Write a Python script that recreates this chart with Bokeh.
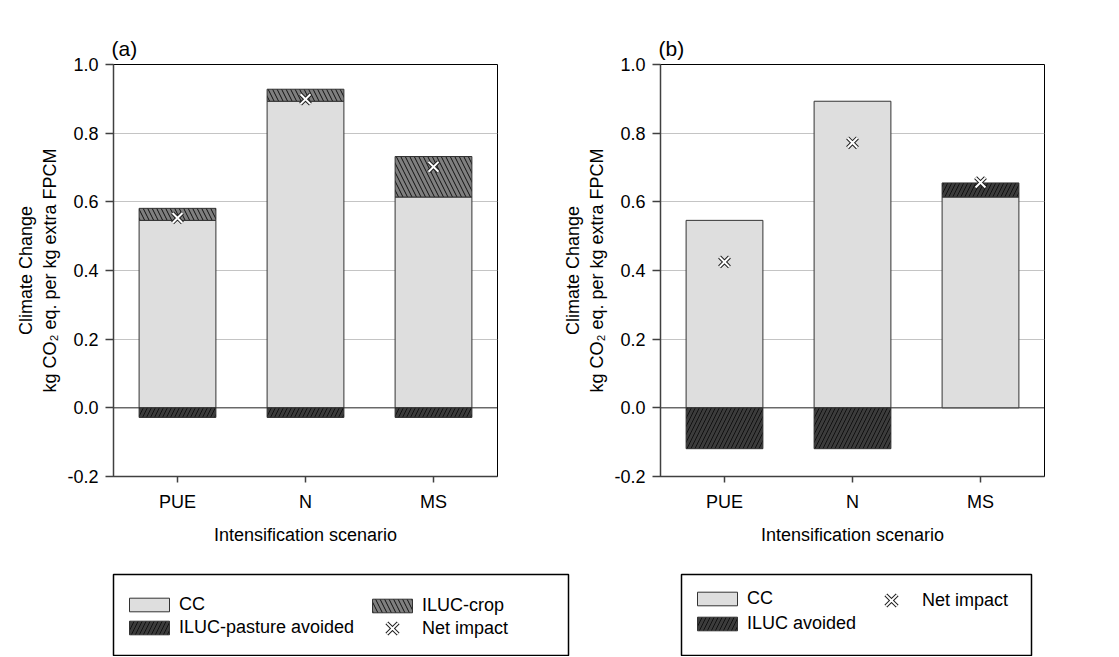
from bokeh.plotting import figure
from bokeh.models import (FactorRange, Range1d, FixedTicker, NumeralTickFormatter,
                          Span, Legend, LegendItem, ColumnDataSource)
from bokeh.layouts import column, row
from bokeh.embed import file_html
from bokeh.resources import INLINE

# ---------------- data ----------------
scenarios = ["PUE", "N", "MS"]
# panel (a)
a_cc = [0.546, 0.893, 0.614]
a_iluc_crop = [0.035, 0.035, 0.118]
a_iluc_pasture_avoided = [-0.028, -0.028, -0.028]
a_net = [0.553, 0.899, 0.702]
# panel (b)
b_cc = [0.546, 0.893, 0.614]
b_iluc_avoided = [-0.119, -0.119, 0.041]
b_net = [0.425, 0.772, 0.656]
y_ticks = [-0.2, 0.0, 0.2, 0.4, 0.6, 0.8, 1.0]
grid_ticks = [0.2, 0.4, 0.6, 0.8]

FONT = "Liberation Sans"
FS = "18px"
CC_FILL = "#dedede"
CROP_FILL = "#7f7f7f"
DARK_FILL = "#3c3c3c"
BAR_LINE = "#333333"

src_a = ColumnDataSource(dict(
    x=scenarios, cc=a_cc,
    crop_bottom=a_cc,
    crop_top=[c + k for c, k in zip(a_cc, a_iluc_crop)],
    past=a_iluc_pasture_avoided,
    net=a_net))

src_b = ColumnDataSource(dict(
    x=scenarios, cc=b_cc,
    iluc_bottom=[c if v > 0 else 0.0 for c, v in zip(b_cc, b_iluc_avoided)],
    iluc_top=[c + v if v > 0 else v for c, v in zip(b_cc, b_iluc_avoided)],
    net=b_net))


def base_panel(title, bl, br):
    p = figure(x_range=FactorRange(*scenarios), y_range=Range1d(-0.2, 1.0),
               frame_width=384, frame_height=412,
               min_border_left=bl, min_border_right=br,
               min_border_top=64, min_border_bottom=89,
               toolbar_location=None, output_backend="svg",
               background_fill_color="white", border_fill_color="white")
    p.title.text = title
    p.title.text_font = FONT
    p.title.text_font_size = "21px"
    p.title.text_font_style = "normal"
    p.title.text_color = "black"
    p.title.align = "left"
    p.title.offset = -2
    p.title.standoff = 9
    p.outline_line_color = "black"
    p.outline_line_width = 1
    p.xgrid.visible = False
    p.ygrid.ticker = FixedTicker(ticks=grid_ticks)
    p.ygrid.grid_line_color = "#c4c4c4"
    p.ygrid.grid_line_width = 1
    p.yaxis.ticker = FixedTicker(ticks=y_ticks)
    p.yaxis.formatter = NumeralTickFormatter(format="0.0")
    p.yaxis.axis_label = "Climate Change\nkg CO\u2082 eq. per kg extra FPCM"
    p.xaxis.axis_label = "Intensification scenario"
    for ax in (p.xaxis, p.yaxis):
        ax.axis_label_text_font = FONT
        ax.axis_label_text_font_size = FS
        ax.axis_label_text_font_style = "normal"
        ax.axis_label_text_color = "black"
        ax.major_label_text_font = FONT
        ax.major_label_text_font_size = FS
        ax.major_label_text_color = "black"
        ax.axis_line_color = "#404040"
        ax.axis_line_width = 1.5
        ax.major_tick_line_color = "#404040"
        ax.major_tick_line_width = 1.5
        ax.minor_tick_line_color = None
        ax.major_tick_in = 0
    p.yaxis.major_tick_out = 8
    p.yaxis.major_label_standoff = 7
    p.yaxis.axis_label_standoff = 4
    p.xaxis.major_tick_out = 6
    p.xaxis.major_label_standoff = 9
    p.xaxis.axis_label_standoff = 10
    p.add_layout(Span(location=0, dimension="width", line_color="#202020",
                      line_width=1, level="underlay"))
    return p


# ---------------- panel (a) ----------------
pa = base_panel("(a)", 113, 63)
pa.vbar(x="x", top="cc", bottom=0, width=0.6, source=src_a,
        fill_color=CC_FILL, line_color=BAR_LINE, line_width=1)
pa.vbar(x="x", top="crop_top", bottom="crop_bottom", width=0.6, source=src_a,
        fill_color=CROP_FILL, line_color=BAR_LINE, line_width=1,
        hatch_pattern="\\", hatch_color="#111111", hatch_scale=9, hatch_weight=1)
pa.vbar(x="x", top=0, bottom="past", width=0.6, source=src_a,
        fill_color=DARK_FILL, line_color=BAR_LINE, line_width=1,
        hatch_pattern="/", hatch_color="#111111", hatch_scale=8, hatch_weight=1)
pa.scatter(x="x", y="net", source=src_a, marker="x", size=14,
           line_color="#222222", line_width=4)
pa.scatter(x="x", y="net", source=src_a, marker="x", size=14,
           line_color="white", line_width=2)

# ---------------- panel (b) ----------------
pb = base_panel("(b)", 100, 75)
pb.vbar(x="x", top="cc", bottom=0, width=0.6, source=src_b,
        fill_color=CC_FILL, line_color=BAR_LINE, line_width=1)
pb.vbar(x="x", top="iluc_top", bottom="iluc_bottom", width=0.6, source=src_b,
        fill_color=DARK_FILL, line_color=BAR_LINE, line_width=1,
        hatch_pattern="/", hatch_color="#111111", hatch_scale=8, hatch_weight=1)
pb.scatter(x="x", y="net", source=src_b, marker="x", size=14,
           line_color="#222222", line_width=4)
pb.scatter(x="x", y="net", source=src_b, marker="x", size=14,
           line_color="white", line_width=2)


# ---------------- legend boxes ----------------
def legend_fig(fw, fh, bl, br, bt, bb):
    f = figure(x_range=FactorRange(*scenarios), y_range=Range1d(-0.2, 1.0),
               frame_width=fw, frame_height=fh,
               min_border_left=bl, min_border_right=br,
               min_border_top=bt, min_border_bottom=bb,
               x_axis_type=None, y_axis_type=None,
               toolbar_location=None, output_backend="svg",
               background_fill_color="white", border_fill_color="white")
    f.outline_line_color = "black"
    f.outline_line_width = 1.5
    return f


def mk_legend(items, vx, vy, gh, gw, spacing, standoff):
    lg = Legend(items=items, location=(vx, vy), orientation="vertical",
                glyph_height=gh, glyph_width=gw, label_height=20,
                spacing=spacing, padding=0, margin=0,
                label_standoff=standoff,
                label_text_font=FONT, label_text_font_size=FS,
                label_text_color="black",
                border_line_color=None, background_fill_alpha=0)
    return lg


# both legend boxes share top/bottom (frames are aligned in a row)
la = legend_fig(455, 81, 113, 2, 9, 1)
r_cc = la.vbar(x="x", top="cc", bottom=0, width=0.6, source=src_a,
               fill_color=CC_FILL, line_color=BAR_LINE, line_width=1, visible=False)
r_crop = la.vbar(x="x", top="crop_top", bottom="crop_bottom", width=0.6, source=src_a,
                 fill_color=CROP_FILL, line_color=BAR_LINE, line_width=1,
                 hatch_pattern="\\", hatch_color="#111111", hatch_scale=9,
                 hatch_weight=1, visible=False)
r_past = la.vbar(x="x", top=0, bottom="past", width=0.6, source=src_a,
                 fill_color=DARK_FILL, line_color=BAR_LINE, line_width=1,
                 hatch_pattern="/", hatch_color="#111111", hatch_scale=8,
                 hatch_weight=1, visible=False)
r_n1 = la.scatter(x="x", y="net", source=src_a, marker="x", size=14,
                  line_color="#222222", line_width=4, visible=False)
r_n2 = la.scatter(x="x", y="net", source=src_a, marker="x", size=14,
                  line_color="white", line_width=2, visible=False)
la.add_layout(mk_legend([LegendItem(label="CC", renderers=[r_cc]),
                         LegendItem(label="ILUC-pasture avoided", renderers=[r_past])],
                        11, 17, 17, 50, 2, 5))
la.add_layout(mk_legend([LegendItem(label="ILUC-crop", renderers=[r_crop])],
                        254, 39, 17, 50, 2, 5))
la.add_layout(mk_legend([LegendItem(label="Net impact", renderers=[r_n1, r_n2])],
                        259, 7, 40, 40, 2, 10))

lb = legend_fig(350, 81, 111, 88, 9, 1)
s_cc = lb.vbar(x="x", top="cc", bottom=0, width=0.6, source=src_b,
               fill_color=CC_FILL, line_color=BAR_LINE, line_width=1, visible=False)
s_il = lb.vbar(x="x", top="iluc_top", bottom="iluc_bottom", width=0.6, source=src_b,
               fill_color=DARK_FILL, line_color=BAR_LINE, line_width=1,
               hatch_pattern="/", hatch_color="#111111", hatch_scale=8,
               hatch_weight=1, visible=False)
s_n1 = lb.scatter(x="x", y="net", source=src_b, marker="x", size=14,
                  line_color="#222222", line_width=4, visible=False)
s_n2 = lb.scatter(x="x", y="net", source=src_b, marker="x", size=14,
                  line_color="white", line_width=2, visible=False)
lb.add_layout(mk_legend([LegendItem(label="CC", renderers=[s_cc]),
                         LegendItem(label="ILUC avoided", renderers=[s_il])],
                        11, 21, 17, 50, 4, 5))
lb.add_layout(mk_legend([LegendItem(label="Net impact", renderers=[s_n1, s_n2])],
                        190, 35, 40, 40, 2, 11))

layout = column(row(pa, pb, spacing=0), row(la, lb, spacing=0), spacing=0)

open("out.html", "w").write(file_html(layout, INLINE))
